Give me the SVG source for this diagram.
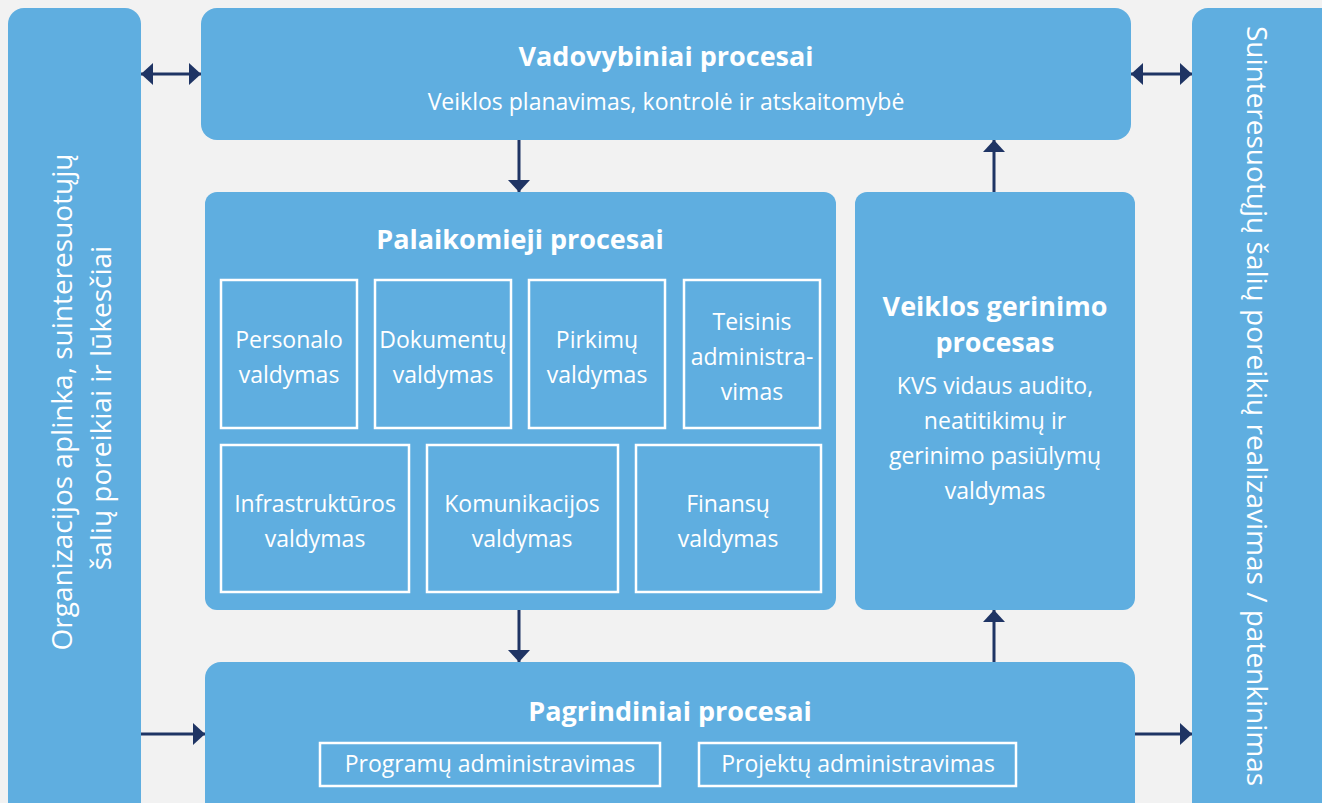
<svg xmlns="http://www.w3.org/2000/svg" width="1322" height="803" viewBox="0 0 1322 803">
<defs>
<marker id="ah2" viewBox="0 0 12 22" refX="12" refY="11" markerWidth="12" markerHeight="22" markerUnits="userSpaceOnUse" orient="auto-start-reverse"><path d="M0,0 L12,11 L0,22 z" fill="#1F3464"/></marker>
</defs>
<style>
.box{fill:#5FAEE0}
.sub{fill:none;stroke:#fff;stroke-width:2.5}
.t{font-family:"Open Sans","Noto Sans",sans-serif;fill:#fff;text-anchor:middle}
.b{font-weight:bold;font-size:27px}
.m{font-size:23px}
.s{font-size:23px}
.v{font-size:28px}
.c{stroke:#1F3464;stroke-width:3;fill:none;marker-end:url(#ah2)}
.d{marker-start:url(#ah2)}
</style>
<rect width="1322" height="803" fill="#F2F2F2"/>
<g id="left">
<rect class="box" x="8" y="8" width="133" height="820" rx="16"/>
<text class="t v" transform="translate(72 402) rotate(-90)">Organizacijos aplinka, suinteresuotųjų</text>
<text class="t v" transform="translate(111 408) rotate(-90)">šalių poreikiai ir lūkesčiai</text>
</g>
<g id="right">
<rect class="box" x="1192" y="8" width="160" height="820" rx="16"/>
<text class="t v" transform="translate(1247 406) rotate(90)">Suinteresuotųjų šalių poreikių realizavimas / patenkinimas</text>
</g>
<g id="vadovybiniai">
<rect class="box" x="201" y="8" width="930" height="132" rx="16"/>
<text class="t b" x="666" y="66">Vadovybiniai procesai</text>
<text class="t m" x="666" y="110">Veiklos planavimas, kontrolė ir atskaitomybė</text>
</g>
<g id="palaikomieji">
<rect class="box" x="205" y="192" width="631" height="418" rx="12"/>
<text class="t b" x="520" y="249">Palaikomieji procesai</text>
<rect class="sub" x="221" y="280" width="136" height="148"/>
<text class="t s" x="289" y="348">Personalo</text><text class="t s" x="289" y="383">valdymas</text>
<rect class="sub" x="375" y="280" width="136" height="148"/>
<text class="t s" x="443" y="348">Dokumentų</text><text class="t s" x="443" y="383">valdymas</text>
<rect class="sub" x="529" y="280" width="136" height="148"/>
<text class="t s" x="597" y="348">Pirkimų</text><text class="t s" x="597" y="383">valdymas</text>
<rect class="sub" x="684" y="280" width="136" height="148"/>
<text class="t s" x="752" y="330">Teisinis</text><text class="t s" x="752" y="365">administra-</text><text class="t s" x="752" y="400">vimas</text>
<rect class="sub" x="221" y="445" width="188" height="147"/>
<text class="t s" x="315" y="512">Infrastruktūros</text><text class="t s" x="315" y="547">valdymas</text>
<rect class="sub" x="427" y="445" width="191" height="147"/>
<text class="t s" x="522" y="512">Komunikacijos</text><text class="t s" x="522" y="547">valdymas</text>
<rect class="sub" x="636" y="445" width="185" height="147"/>
<text class="t s" x="728" y="512">Finansų</text><text class="t s" x="728" y="547">valdymas</text>
</g>
<g id="gerinimo">
<rect class="box" x="855" y="192" width="280" height="418" rx="12"/>
<text class="t b" x="995" y="316">Veiklos gerinimo</text>
<text class="t b" x="995" y="352">procesas</text>
<text class="t m" x="995" y="394">KVS vidaus audito,</text>
<text class="t m" x="995" y="429">neatitikimų ir</text>
<text class="t m" x="995" y="464">gerinimo pasiūlymų</text>
<text class="t m" x="995" y="499">valdymas</text>
</g>
<g id="pagrindiniai">
<rect class="box" x="205" y="662" width="930" height="170" rx="16"/>
<text class="t b" x="670" y="721">Pagrindiniai procesai</text>
<rect class="sub" x="320" y="743" width="340" height="43"/>
<text class="t m" x="490" y="772">Programų administravimas</text>
<rect class="sub" x="699" y="743" width="317" height="43"/>
<text class="t m" x="858" y="772">Projektų administravimas</text>
</g>
<g id="connectors">
<line class="c d" x1="141" y1="74" x2="201" y2="74"/>
<line class="c d" x1="1131" y1="74" x2="1192" y2="74"/>
<line class="c" x1="519" y1="140" x2="519" y2="192"/>
<line class="c" x1="994" y1="192" x2="994" y2="140"/>
<line class="c" x1="519" y1="610" x2="519" y2="662"/>
<line class="c" x1="994" y1="662" x2="994" y2="610"/>
<line class="c" x1="141" y1="734" x2="205" y2="734"/>
<line class="c" x1="1135" y1="734" x2="1192" y2="734"/>
</g>
</svg>
